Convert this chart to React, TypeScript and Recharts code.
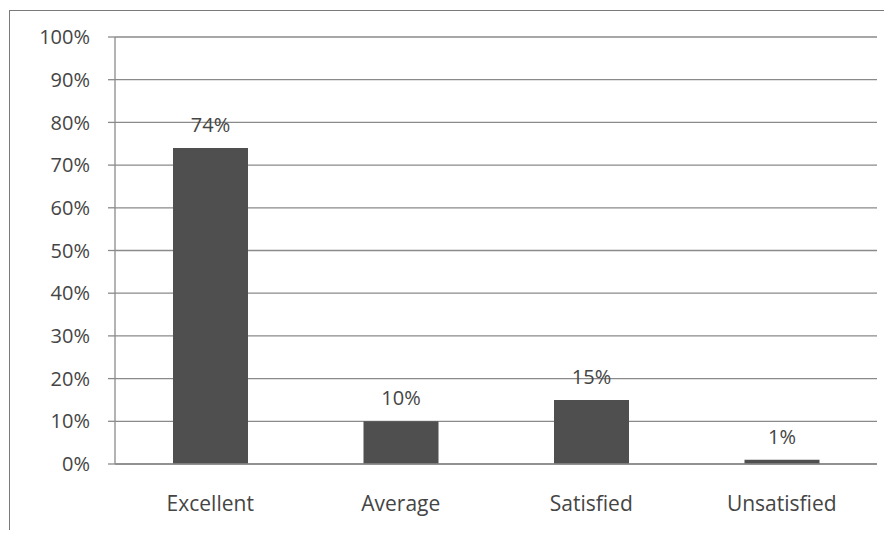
import { Bar, BarChart, CartesianGrid, LabelList, XAxis, YAxis } from "recharts";

const categories = ["Excellent", "Average", "Satisfied", "Unsatisfied"];
const shares = [74, 10, 15, 1];
const yTicks = [0, 10, 20, 30, 40, 50, 60, 70, 80, 90, 100];
const edgeTicks = [0, 1, 2, 3, 4];

const data = categories.map((name, i) => ({ name, value: shares[i] }));

const font = "'Open Sans', sans-serif";
const textColor = "#454545";
const lineColor = "#8a8a8a";

export default function App() {
  return (
    <div
      style={{
        position: "relative",
        width: 884,
        height: 530,
        marginBottom: -8,
        overflow: "hidden",
        fontFamily: font,
      }}
    >
      <div
        style={{
          position: "absolute",
          left: 1,
          top: 2,
          width: 1000,
          height: 1000,
          borderLeft: "1.5px solid #7a7a7a",
          borderTop: "1.5px solid #7a7a7a",
        }}
      />
      <BarChart
        width={884}
        height={522}
        data={data}
        margin={{ top: 29, right: 15, bottom: 36, left: 0 }}
        style={{ position: "relative" }}
      >
        <CartesianGrid vertical={false} stroke={lineColor} strokeWidth={1.3} />
        <XAxis
          xAxisId="edge"
          type="number"
          domain={[0, 4]}
          ticks={edgeTicks}
          tick={false}
          tickSize={7}
          axisLine={false}
          tickLine={{ stroke: lineColor, strokeWidth: 1.3 }}
          height={0}
        />
        <XAxis
          dataKey="name"
          tickLine={false}
          tickSize={6}
          tickMargin={26}
          height={30}
          axisLine={{ stroke: lineColor, strokeWidth: 1.3 }}
          tick={{ fill: textColor, fontSize: 21, fontFamily: font }}
          interval={0}
        />
        <YAxis
          width={107}
          domain={[0, 100]}
          ticks={yTicks}
          interval={0}
          tickFormatter={(v: number) => `${v}%`}
          tickSize={7}
          tickMargin={18}
          axisLine={{ stroke: lineColor, strokeWidth: 1.3 }}
          tickLine={{ stroke: lineColor, strokeWidth: 1.3 }}
          tick={{ fill: textColor, fontSize: 20, fontFamily: font }}
        />
        <Bar dataKey="value" fill="#4f4f4f" barSize={75} isAnimationActive={false}>
          <LabelList
            dataKey="value"
            position="top"
            offset={16}
            formatter={(v: number) => `${v}%`}
            fill={textColor}
            fontSize={20}
            fontFamily={font}
          />
        </Bar>
      </BarChart>
    </div>
  );
}
